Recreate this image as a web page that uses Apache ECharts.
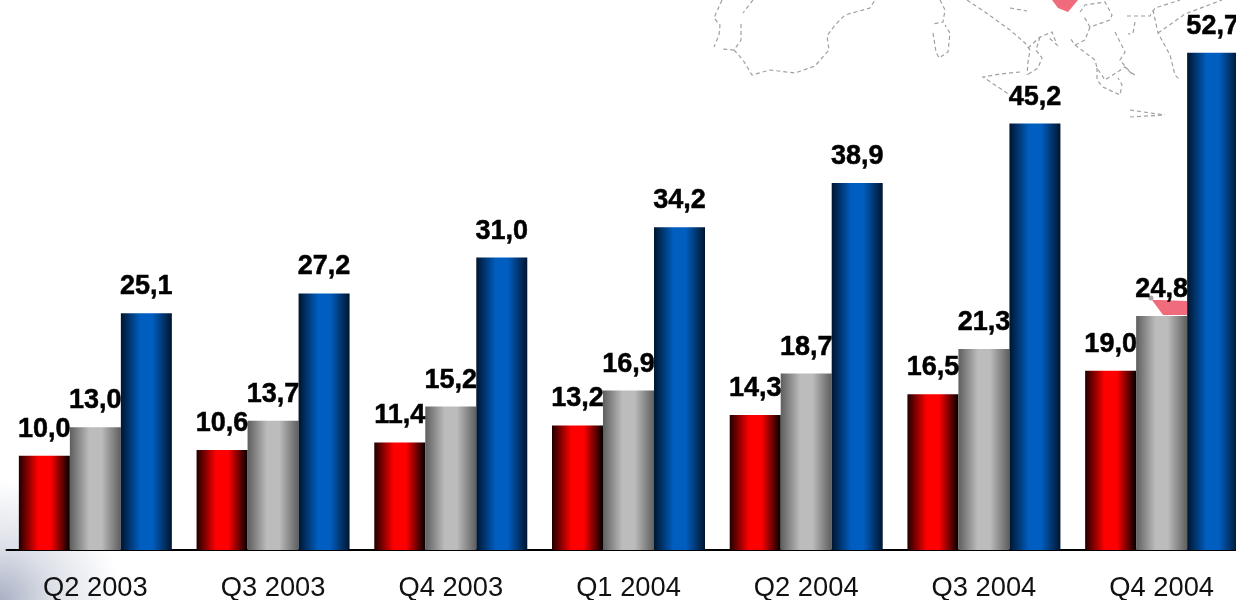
<!DOCTYPE html>
<html>
<head>
<meta charset="utf-8">
<style>
html, body { margin: 0; padding: 0; background: #fff; overflow: hidden; }
#chart { width: 1236px; height: 600px; }
</style>
<script src="https://cdn.jsdelivr.net/npm/echarts@6/dist/echarts.min.js"></script>
</head>
<body>
<div id="chart"></div>
<script>
var categories = ['Q2 2003', 'Q3 2003', 'Q4 2003', 'Q1 2004', 'Q2 2004', 'Q3 2004', 'Q4 2004'];
var redValues = [10.0, 10.6, 11.4, 13.2, 14.3, 16.5, 19.0];
var greyValues = [13.0, 13.7, 15.2, 16.9, 18.7, 21.3, 24.8];
var blueValues = [25.1, 27.2, 31.0, 34.2, 38.9, 45.2, 52.7];

// faded map behind the chart, pixel positions of the picture
var mapLines = [
    [[722,0],[714,18],[720,25],[719,35],[714,47]],
    [[753,0],[743,13]],
    [[741,24],[741,40],[734,50],[722,49]],
    [[734,50],[743,60],[752,75],[770,70],[795,73],[815,66],[829,50],[827,36],[835,25],[845,15],[870,8],[875,0]],
    [[940,0],[945,10],[943,22],[932,24]],
    [[933,33],[936,52],[939,58],[948,52],[950,33],[945,25]],
    [[967,0],[985,12],[1010,30],[1025,43],[1030,50],[1028,62],[1027,75]],
    [[1028,48],[1040,37],[1052,32],[1057,45],[1048,37]],
    [[1040,37],[1036,50],[1042,58],[1038,68],[1027,75]],
    [[1020,72],[1000,74],[983,77],[1010,95]],
    [[1010,8],[1027,11]],
    [[1080,12],[1085,5],[1105,2],[1112,15],[1110,20],[1090,27],[1083,15]],
    [[1090,27],[1085,40],[1075,45],[1070,38]],
    [[1075,45],[1095,60],[1097,68],[1105,80],[1125,67],[1133,75]],
    [[1097,68],[1097,80],[1103,87],[1120,95],[1122,85],[1118,78]],
    [[1127,16],[1150,16],[1155,8],[1180,0]],
    [[1135,22],[1133,33],[1128,34]],
    [[1115,32],[1125,52],[1120,60],[1130,72],[1135,75]],
    [[1153,10],[1158,33],[1170,55],[1175,75],[1180,80]],
    [[1158,33],[1185,14],[1222,0]],
    [[1130,110],[1165,115]],
    [[1130,117],[1165,115]]
];
var mapSpots = [
    [[1052,0],[1078,0],[1068,12],[1058,8]],
    [[1152,300],[1160,300],[1187,301],[1187,315],[1163,315]]
];

function barColor(edge, middle, edge2) {
    return {
        type: 'linear', x: 0, y: 0, x2: 1, y2: 0,
        colorStops: [
            { offset: 0, color: edge },
            { offset: 0.38, color: middle },
            { offset: 0.62, color: middle },
            { offset: 1, color: edge2 }
        ]
    };
}

function barSeries(values, color) {
    return {
        type: 'bar',
        data: values,
        barWidth: 51,
        barGap: 0,
        itemStyle: { color: color },
        label: {
            show: true,
            position: 'top',
            distance: 13,
            color: '#000',
            fontFamily: '"Liberation Sans"',
            fontWeight: 'bold',
            fontSize: 27,
            textBorderColor: '#000',
            textBorderWidth: 0.5,
            formatter: function (p) { return p.value.toFixed(1).replace('.', ','); }
        }
    };
}

var decor = [{
    type: 'rect',
    shape: { x: 0, y: 480, width: 160, height: 120 },
    style: {
        fill: {
            type: 'radial', x: 0, y: 1, r: 1,
            colorStops: [
                { offset: 0, color: '#a9b1c4' },
                { offset: 0.45, color: '#dde0e8' },
                { offset: 1, color: '#ffffff' }
            ]
        }
    }
}];
mapLines.forEach(function (pts) {
    decor.push({
        type: 'polyline',
        shape: { points: pts },
        style: { fill: null, stroke: '#a0a0a0', lineWidth: 1.2, lineDash: [4, 3] }
    });
});
mapSpots.forEach(function (pts) {
    decor.push({
        type: 'polygon',
        shape: { points: pts },
        style: { fill: '#f06c7c' }
    });
});
// grey dot at the tip of the lower spot
decor.push({
    type: 'circle',
    shape: { cx: 1151, cy: 298, r: 2.5 },
    style: { fill: '#a8a8a8' }
});

var myChart = echarts.init(document.getElementById('chart'));
var option = {
    animation: false,
    backgroundColor: '#fff',
    graphic: decor,
    grid: { left: 6.5, top: 0, width: 1244, height: 550, outerBoundsMode: 'none' },
    xAxis: {
        type: 'category',
        data: categories,
        axisTick: { show: false },
        axisLine: { lineStyle: { color: '#000', width: 2 } },
        axisLabel: {
            color: '#111',
            fontFamily: '"Liberation Sans"',
            fontSize: 27.3,
            margin: 25
        }
    },
    yAxis: { type: 'value', min: 0, max: 58.3, show: false },
    series: [
        barSeries(redValues, barColor('#200000', '#ff0000', '#000000')),
        barSeries(greyValues, barColor('#5e5e5e', '#bcbcbc', '#5e5e5e')),
        barSeries(blueValues, barColor('#00152e', '#005ec0', '#00152e'))
    ]
};
myChart.setOption(option);
</script>
</body>
</html>
